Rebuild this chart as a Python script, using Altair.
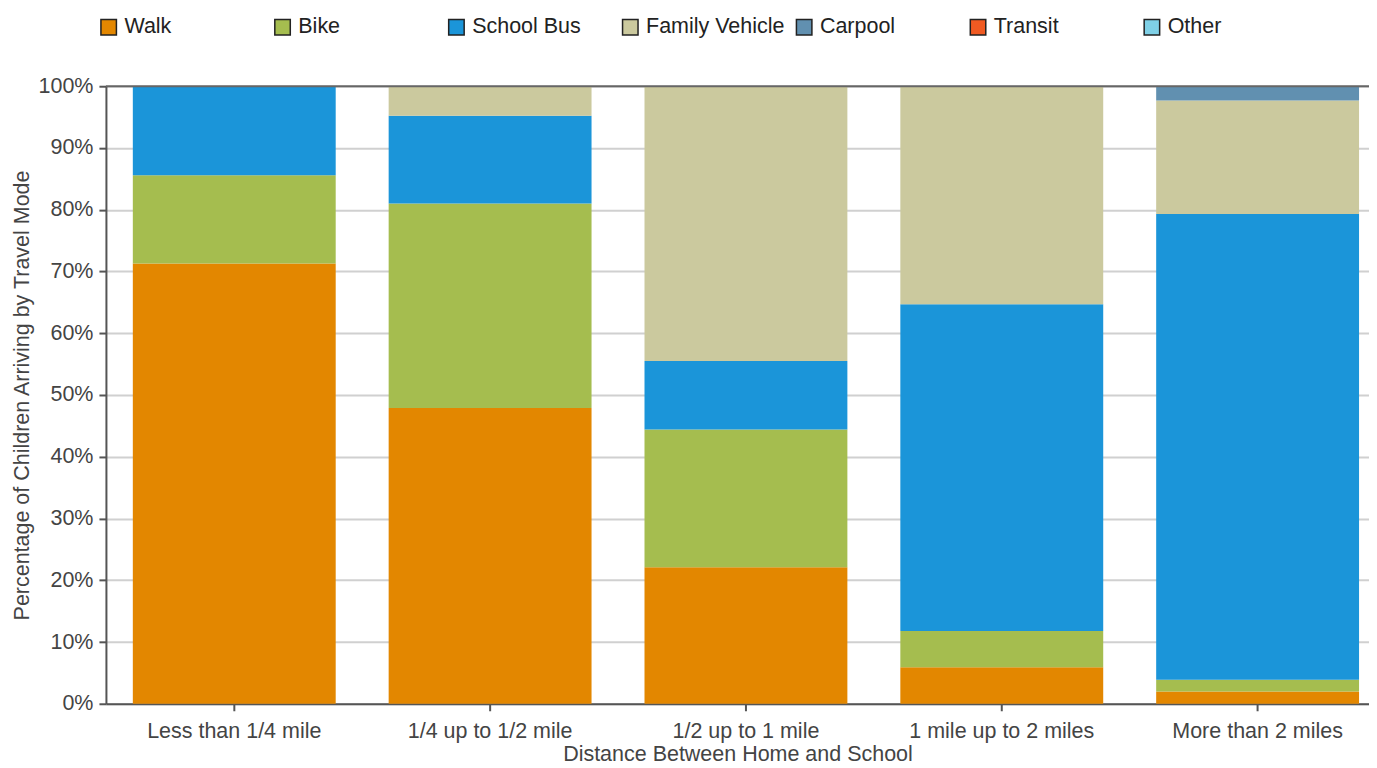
import altair as alt
import pandas as pd

categories = ["Less than 1/4 mile", "1/4 up to 1/2 mile", "1/2 up to 1 mile",
              "1 mile up to 2 miles", "More than 2 miles"]
modes = ["Walk", "Bike", "School Bus", "Family Vehicle", "Carpool", "Transit", "Other"]
colors = ["#E38700", "#A5BD4F", "#1B95D9", "#CBC99E", "#6190B0", "#F05A22", "#7FD0E6"]

walk = [71.3, 47.9, 22.1, 5.9, 2.0]
bike = [14.3, 33.1, 22.3, 5.9, 1.9]
school_bus = [14.4, 14.2, 11.1, 52.9, 75.4]
family_vehicle = [0.0, 4.8, 44.5, 35.3, 18.4]
carpool = [0.0, 0.0, 0.0, 0.0, 2.3]
transit = [0.0, 0.0, 0.0, 0.0, 0.0]
other = [0.0, 0.0, 0.0, 0.0, 0.0]

series = [walk, bike, school_bus, family_vehicle, carpool, transit, other]
rows = []
for mi, (m, vals) in enumerate(zip(modes, series)):
    for c, v in zip(categories, vals):
        rows.append({"distance": c, "mode": m, "order": mi, "share": v / 100.0})
df = pd.DataFrame(rows)

FONT = "Liberation Sans"
TXT = "#444444"
FS = 21.5

bars = alt.Chart(df).mark_bar().encode(
    x=alt.X("distance:N", sort=categories,
            title="Distance Between Home and School",
            scale=alt.Scale(paddingInner=0.207, paddingOuter=0.072, align=0.73),
            axis=alt.Axis(labelAngle=0, tickSize=7, labelPadding=10, titlePadding=1,
                          labelLimit=400,
                          domainColor="#555555", domainWidth=2, tickColor="#555555",
                          tickWidth=2, labelFontSize=FS, titleFontSize=FS,
                          labelColor=TXT, titleColor=TXT, titleFontWeight="normal",
                          grid=False)),
    y=alt.Y("share:Q", stack="zero",
            title="Percentage of Children Arriving by Travel Mode",
            scale=alt.Scale(domain=[0, 1], nice=False),
            axis=alt.Axis(format="%", values=[i / 10 for i in range(11)], tickSize=7,
                          labelPadding=6, titlePadding=4, domainColor="#555555",
                          domainWidth=2, tickColor="#555555", tickWidth=2,
                          labelFontSize=FS, titleFontSize=FS, labelColor=TXT,
                          titleColor=TXT, titleFontWeight="normal",
                          grid=True, gridColor="#D0D0D0", gridWidth=2)),
    color=alt.Color("mode:N", sort=modes,
                    scale=alt.Scale(domain=modes, range=colors),
                    legend=alt.Legend(title=None, orient="none", legendX=-8, legendY=-70,
                                      direction="horizontal", columns=7, gridAlign="all",
                                      columnPadding=8, symbolType="square",
                                      symbolSize=240, symbolStrokeColor="#222222",
                                      symbolStrokeWidth=1.5, symbolOpacity=1,
                                      labelFontSize=FS, labelColor="#222222",
                                      labelOffset=5, labelFont=FONT, labelLimit=400)),
    order=alt.Order("order:Q", sort="ascending"),
)

top = alt.Chart(pd.DataFrame({"y": [1.0]})).mark_rule(color="#666666", strokeWidth=2).encode(
    y="y:Q"
)

chart = alt.layer(bars, top).properties(
    width=1264, height=618,
    autosize=alt.AutoSizeParams(type="none"),
    padding={"left": 98, "top": 78, "right": 0, "bottom": 62},
).configure(font=FONT).configure_view(stroke=None)

chart.save("out.html", embed_options={"renderer": "svg", "actions": False})
